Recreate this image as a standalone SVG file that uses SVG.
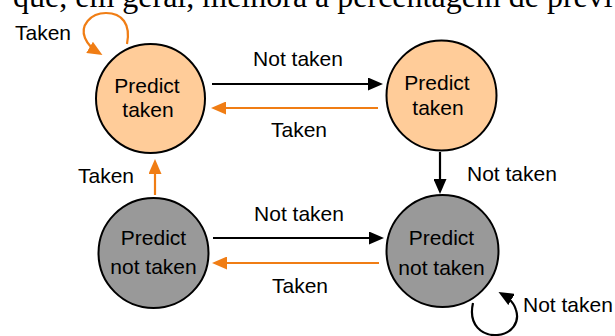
<svg xmlns="http://www.w3.org/2000/svg" width="615" height="336" viewBox="0 0 615 336">
  <style>
    .state { stroke: #000; stroke-width: 2; }
    .taken-state { fill: #FFCC99; }
    .nt-state { fill: #999999; }
    .lbl { font-family: "Liberation Sans", Arial, sans-serif; font-size: 21px; fill: #000; }
    .mid { text-anchor: middle; }
    .edge { fill: none; stroke-width: 2.2; }
    .black { stroke: #000; }
    .orange { stroke: #F07D14; }
    .body { font-family: "Liberation Serif", "Times New Roman", serif; font-size: 32px; fill: #000; }
  </style>
  <defs>
    <marker id="ah-black" markerUnits="userSpaceOnUse" markerWidth="15" markerHeight="13" refX="11" refY="6.5" orient="auto">
      <path d="M0,0 L15,6.5 L0,13 z" fill="#000"/>
    </marker>
    <marker id="ah-orange" markerUnits="userSpaceOnUse" markerWidth="15" markerHeight="13" refX="11" refY="6.5" orient="auto">
      <path d="M0,0 L15,6.5 L0,13 z" fill="#F07D14"/>
    </marker>
  </defs>

  <rect width="615" height="336" fill="#fff"/>

  <!-- running text line above the figure, partly cut off by the top edge -->
  <text class="body" x="13" y="7">que, em geral, melhora a percentagem de previ</text>

  <g id="connectors">
    <!-- self loop on strong taken -->
    <path class="edge orange" d="M127,44 C131,24 122,13 106,13 C90,13 80,26 85,38 C88,45 94,50 99,53" marker-end="url(#ah-orange)"/>
    <!-- strong taken -> weak taken -->
    <path class="edge black" d="M212,84 H379" marker-end="url(#ah-black)"/>
    <!-- weak taken -> strong taken -->
    <path class="edge orange" d="M378,108 H215" marker-end="url(#ah-orange)"/>
    <!-- weak taken -> weak not taken -->
    <path class="edge black" d="M440,152 V190" marker-end="url(#ah-black)"/>
    <!-- weak not taken -> strong taken -->
    <path class="edge orange" d="M155,195 V163" marker-end="url(#ah-orange)"/>
    <!-- weak not taken -> strong not taken -->
    <path class="edge black" d="M213,238 H380" marker-end="url(#ah-black)"/>
    <!-- strong not taken -> weak not taken -->
    <path class="edge orange" d="M379,263 H216" marker-end="url(#ah-orange)"/>
    <!-- self loop on strong not taken -->
    <path class="edge black" d="M473,303 C468,325 482,336 497,335 C512,334 520,322 516,310 C514,303 509,298 502,294" marker-end="url(#ah-black)"/>

    <text class="lbl" x="15" y="40">Taken</text>
    <text class="lbl mid" x="298" y="66">Not taken</text>
    <text class="lbl mid" x="299" y="137">Taken</text>
    <text class="lbl" x="78" y="183">Taken</text>
    <text class="lbl" x="467" y="181">Not taken</text>
    <text class="lbl mid" x="299" y="221">Not taken</text>
    <text class="lbl mid" x="300" y="293">Taken</text>
    <text class="lbl" x="523" y="312">Not taken</text>
  </g>

  <g id="strong-taken">
    <circle class="state taken-state" cx="150.5" cy="98.5" r="54.5"/>
    <text class="lbl mid" x="147" y="93">Predict</text>
    <text class="lbl mid" x="148" y="117">taken</text>
  </g>

  <g id="weak-taken">
    <circle class="state taken-state" cx="441.5" cy="95.5" r="55"/>
    <text class="lbl mid" x="437" y="90">Predict</text>
    <text class="lbl mid" x="438" y="115">taken</text>
  </g>

  <g id="weak-not-taken">
    <circle class="state nt-state" cx="153.5" cy="253" r="55"/>
    <text class="lbl mid" x="153.5" y="245">Predict</text>
    <text class="lbl mid" x="153.5" y="274">not taken</text>
  </g>

  <g id="strong-not-taken">
    <circle class="state nt-state" cx="442.5" cy="251" r="56"/>
    <text class="lbl mid" x="441.5" y="245">Predict</text>
    <text class="lbl mid" x="441.5" y="275">not taken</text>
  </g>
</svg>
